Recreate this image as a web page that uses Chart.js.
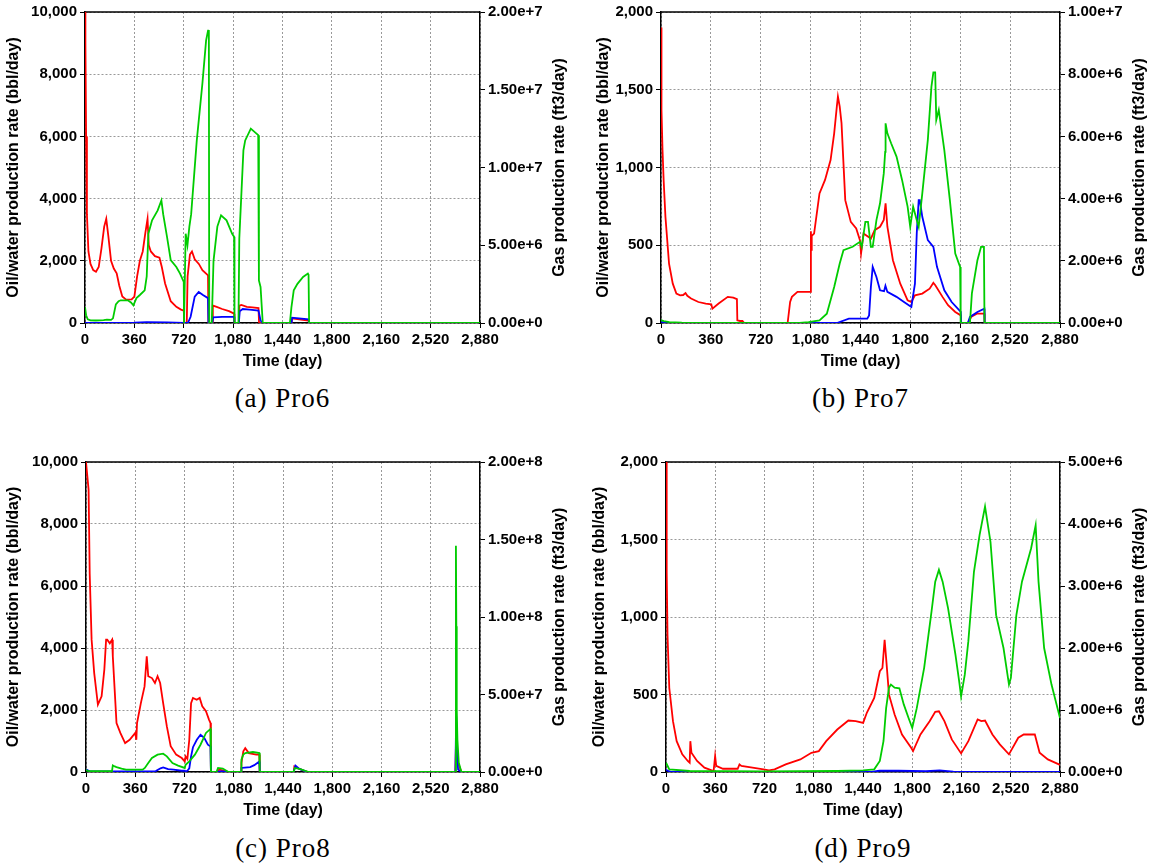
<!DOCTYPE html>
<html>
<head>
<meta charset="utf-8">
<title>Production rates Pro6 - Pro9</title>
<script src="https://cdn.jsdelivr.net/npm/chart.js@4.4.1/dist/chart.umd.min.js"></script>
<style>
  body { margin: 0; background: #fff; }
  #page { position: relative; width: 1160px; height: 867px; overflow: hidden; }
  canvas { position: absolute; }
  .cap {
    position: absolute;
    font-family: "Liberation Serif", "DejaVu Serif", serif;
    font-size: 27px;
    line-height: 30px;
    letter-spacing: 1px;
    text-align: center;
    color: #000;
  }
</style>
</head>
<body>
<div id="page">
  <canvas id="pro6" width="580" height="375" style="left:0;top:0"></canvas>
  <canvas id="pro7" width="580" height="375" style="left:580px;top:0"></canvas>
  <canvas id="pro8" width="580" height="384" style="left:0;top:440px"></canvas>
  <canvas id="pro9" width="580" height="384" style="left:580px;top:440px"></canvas>
  <div class="cap" style="left:85px;top:383px;width:395px">(a) Pro6</div>
  <div class="cap" style="left:661px;top:383px;width:399px">(b) Pro7</div>
  <div class="cap" style="left:86px;top:833px;width:394px">(c) Pro8</div>
  <div class="cap" style="left:666px;top:833px;width:394px">(d) Pro9</div>
</div>
<script>
// tick labels
const dayTicks = [0, 360, 720, 1080, 1440, 1800, 2160, 2520, 2880];
const rateTicks10k = [0, 2000, 4000, 6000, 8000, 10000];
const rateTicks2k = [0, 500, 1000, 1500, 2000];
const gasTicksPro6 = [0, 5e6, 1e7, 1.5e7, 2e7];
const gasTicksPro7 = [0, 2e6, 4e6, 6e6, 8e6, 1e7];
const gasTicksPro8 = [0, 5e7, 1e8, 1.5e8, 2e8];
const gasTicksPro9 = [0, 1e6, 2e6, 3e6, 4e6, 5e6];

// Pro6
const pro6OilDays = [0, 3, 8, 14, 25, 40, 60, 80, 100, 120, 140, 155, 170, 190, 210, 231, 250, 272, 300, 340, 360, 380, 400, 421, 440, 456, 465, 480, 510, 543, 560, 584, 625, 666, 700, 720, 724, 742, 748, 765, 780, 800, 830, 856, 897, 900, 928, 932, 960, 1000, 1050, 1087, 1090, 1122, 1126, 1140, 1180, 1220, 1265, 1269, 1506, 1510, 1560, 1630, 1634, 2880];
const pro6Oil = [10000, 9000, 6000, 3500, 2300, 1900, 1700, 1650, 1800, 2400, 3100, 3350, 2800, 2000, 1750, 1600, 1200, 850, 750, 760, 850, 1500, 2000, 2300, 2900, 3350, 2500, 2300, 2150, 2100, 1800, 1270, 700, 520, 430, 400, 0, 0, 1500, 2200, 2300, 2050, 1900, 1700, 1530, 0, 0, 560, 520, 450, 380, 300, 0, 0, 560, 580, 520, 500, 480, 0, 0, 150, 120, 80, 0, 0];
const pro6WaterDays = [0, 360, 450, 600, 720, 750, 770, 800, 829, 860, 897, 900, 928, 935, 1000, 1087, 1090, 1122, 1128, 1150, 1200, 1265, 1280, 1296, 1506, 1510, 1560, 1630, 1634, 2880];
const pro6Water = [0, 10, 30, 20, 0, 0, 200, 850, 1000, 900, 800, 0, 0, 180, 200, 200, 0, 0, 380, 450, 430, 400, 80, 0, 0, 170, 150, 120, 0, 0];
const pro6GasDays = [0, 8, 20, 40, 80, 136, 160, 190, 204, 225, 245, 260, 312, 335, 353, 375, 400, 435, 450, 462, 489, 530, 557, 570, 598, 625, 666, 693, 720, 722, 726, 734, 747, 761, 774, 815, 856, 883, 897, 903, 906, 924, 937, 965, 992, 1032, 1073, 1087, 1090, 1119, 1125, 1155, 1168, 1209, 1263, 1268, 1280, 1296, 1494, 1505, 1522, 1549, 1590, 1625, 1630, 1634, 2880];
const pro6Gas = [1.02e6, 5e5, 2.4e5, 1.7e5, 1.6e5, 1.8e5, 2.2e5, 2e5, 3e5, 1.2e6, 1.4e6, 1.46e6, 1.46e6, 1.32e6, 1.14e6, 1.6e6, 1.8e6, 2.1e6, 3e6, 5.74e6, 6.6e6, 7.24e6, 7.88e6, 7e6, 5.54e6, 4.04e6, 3.6e6, 3.18e6, 2.64e6, 0, 0, 5.74e6, 5e6, 6.2e6, 7e6, 1.174e7, 1.54e7, 1.818e7, 1.88e7, 1.884e7, 0, 0, 4e6, 6.2e6, 6.92e6, 6.6e6, 5.74e6, 5.54e6, 0, 0, 5.42e6, 1.11e7, 1.174e7, 1.25e7, 1.208e7, 2.74e6, 2.32e6, 0, 0, 1e6, 2.1e6, 2.52e6, 2.96e6, 3.18e6, 3.1e6, 0, 0];

// Pro7
const pro7OilDays = [0, 2, 5, 11, 19, 32, 58, 85, 111, 138, 160, 177, 190, 217, 270, 323, 363, 371, 416, 482, 522, 548, 551, 570, 588, 601, 914, 932, 945, 985, 1078, 1082, 1084, 1088, 1105, 1144, 1184, 1224, 1250, 1270, 1277, 1290, 1303, 1330, 1370, 1409, 1436, 1444, 1462, 1515, 1542, 1581, 1608, 1621, 1634, 1674, 1727, 1780, 1807, 1833, 1886, 1939, 1966, 1980, 2032, 2072, 2124, 2164, 2166, 2215, 2240, 2280, 2323, 2334, 2336, 2880];
const pro7Oil = [1900, 1500, 1370, 1110, 920, 683, 382, 253, 189, 178, 180, 193, 175, 157, 135, 125, 120, 92, 125, 168, 163, 153, 17, 13, 13, 0, 0, 135, 168, 200, 200, 590, 470, 560, 575, 833, 920, 1048, 1220, 1400, 1456, 1392, 1285, 790, 650, 608, 533, 447, 575, 543, 597, 619, 662, 769, 619, 404, 253, 146, 135, 178, 189, 221, 258, 243, 168, 114, 71, 49, 0, 0, 40, 60, 60, 60, 0, 0];
const pro7WaterDays = [0, 10, 30, 1270, 1356, 1489, 1502, 1515, 1528, 1555, 1581, 1610, 1620, 1634, 1700, 1754, 1807, 1833, 1846, 1860, 1868, 1886, 1926, 1966, 1992, 2045, 2098, 2164, 2167, 2215, 2230, 2284, 2334, 2336, 2880];
const pro7Water = [10, 5, 0, 0, 28, 28, 49, 232, 361, 296, 210, 205, 240, 200, 168, 135, 103, 253, 575, 790, 790, 683, 533, 490, 361, 210, 135, 71, 0, 0, 39, 71, 92, 0, 0];
const pro7GasDays = [0, 20, 60, 150, 300, 1000, 1065, 1144, 1197, 1250, 1290, 1317, 1383, 1436, 1449, 1475, 1494, 1515, 1528, 1555, 1581, 1608, 1618, 1621, 1634, 1661, 1700, 1740, 1780, 1799, 1820, 1846, 1860, 1886, 1926, 1952, 1966, 1979, 1987, 2005, 2045, 2085, 2124, 2159, 2163, 2230, 2244, 2284, 2310, 2331, 2335, 2880];
const pro7Gas = [9e4, 6e4, 3e4, 1e4, 0, 0, 3e4, 8.6e4, 3e5, 1.16e6, 1.91e6, 2.34e6, 2.45e6, 2.61e6, 2.45e6, 3.25e6, 3.25e6, 2.45e6, 2.45e6, 3.31e6, 3.85e6, 4.81e6, 5.5e6, 6.42e6, 6.1e6, 5.78e6, 5.35e6, 4.6e6, 3.74e6, 3.09e6, 3.74e6, 3.31e6, 3.09e6, 4.17e6, 5.89e6, 7.6e6, 8.06e6, 8.06e6, 6.53e6, 6.85e6, 5.56e6, 3.95e6, 2.23e6, 1.8e6, 0, 0, 9.5e5, 2.02e6, 2.45e6, 2.45e6, 0, 0];

// Pro8
const pro8OilDays = [0, 19, 27, 41, 60, 87, 114, 134, 147, 155, 174, 191, 196, 223, 251, 286, 319, 360, 368, 373, 401, 428, 444, 455, 482, 504, 523, 542, 564, 591, 619, 659, 700, 722, 728, 741, 755, 768, 782, 809, 831, 850, 877, 899, 910, 913, 954, 973, 1000, 1041, 1133, 1136, 1150, 1164, 1190, 1245, 1267, 1270, 1518, 1523, 1545, 1600, 1627, 2700, 2706, 2712, 2720, 2744, 2880];
const pro8Oil = [10000, 9100, 6400, 4270, 3190, 2170, 2440, 3300, 4270, 4270, 4150, 4270, 3730, 1580, 1260, 935, 1040, 1260, 1040, 1580, 2220, 2760, 3730, 3090, 3030, 2870, 3090, 2870, 2220, 1470, 830, 560, 450, 340, 505, 420, 1040, 2220, 2390, 2330, 2390, 2120, 1960, 1690, 1580, 0, 0, 75, 50, 0, 0, 290, 670, 770, 610, 560, 560, 0, 0, 180, 130, 30, 0, 0, 1260, 700, 300, 0, 0];
const pro8WaterDays = [0, 10, 25, 300, 510, 545, 564, 600, 640, 700, 722, 728, 741, 755, 768, 782, 810, 837, 864, 891, 905, 910, 913, 959, 980, 1000, 1041, 1133, 1136, 1160, 1200, 1230, 1267, 1270, 1518, 1531, 1560, 1600, 1620, 2700, 2706, 2712, 2720, 2744, 2880];
const pro8Water = [75, 60, 20, 20, 30, 120, 150, 90, 75, 40, 40, 20, 40, 120, 505, 800, 1040, 1200, 1100, 880, 840, 830, 0, 0, 20, 20, 0, 0, 130, 140, 160, 220, 340, 0, 0, 205, 100, 30, 0, 0, 1800, 500, 80, 0, 0];
const pro8GasDays = [0, 8, 20, 190, 196, 210, 223, 260, 292, 414, 430, 455, 482, 523, 564, 591, 632, 673, 722, 728, 755, 796, 837, 877, 910, 913, 954, 965, 1000, 1041, 1133, 1136, 1150, 1164, 1220, 1267, 1270, 1518, 1526, 1567, 1627, 2700, 2704, 2707, 2710, 2715, 2725, 2744, 2880];
const pro8Gas = [1.5e6, 8e5, 6e5, 6e5, 4.3e6, 3.6e6, 3.2e6, 2.2e6, 1.5e6, 1.5e6, 2.6e6, 5.8e6, 9e6, 1.12e7, 1.18e7, 1.01e7, 5.8e6, 4.1e6, 2.6e6, 4.7e6, 6.9e6, 1.12e7, 1.76e7, 2.52e7, 2.78e7, 0, 0, 2.6e6, 2.2e6, 0, 0, 8e6, 1.12e7, 1.22e7, 1.29e7, 1.22e7, 0, 0, 2.6e6, 1.9e6, 0, 0, 1.46e8, 9.4e7, 4.02e7, 2.08e7, 6e6, 0, 0];

// Pro9
const pro9OilDays = [0, 5, 11, 24, 51, 78, 119, 159, 173, 178, 186, 227, 281, 348, 359, 367, 416, 524, 537, 551, 632, 713, 753, 794, 875, 982, 1063, 1117, 1171, 1252, 1333, 1387, 1441, 1468, 1522, 1563, 1582, 1598, 1609, 1630, 1671, 1725, 1792, 1806, 1860, 1927, 1968, 1995, 2035, 2089, 2157, 2210, 2278, 2305, 2332, 2386, 2440, 2507, 2575, 2615, 2696, 2731, 2791, 2872, 2880];
const pro9Oil = [2000, 1290, 885, 542, 328, 199, 114, 71, 60, 199, 124, 71, 28, 6, 103, 39, 21, 21, 49, 39, 28, 17, 11, 17, 49, 81, 124, 135, 199, 274, 332, 328, 317, 382, 478, 650, 671, 853, 735, 499, 371, 242, 156, 135, 242, 328, 388, 392, 328, 210, 120, 199, 339, 328, 332, 242, 178, 114, 221, 242, 242, 124, 81, 49, 45];
const pro9WaterDays = [0, 20, 40, 1500, 1560, 1700, 1900, 2000, 2100, 2880];
const pro9Water = [15, 5, 0, 0, 8, 8, 5, 10, 3, 0];
const pro9GasDays = [0, 24, 173, 713, 1252, 1441, 1522, 1563, 1590, 1609, 1630, 1644, 1671, 1706, 1738, 1773, 1800, 1833, 1887, 1941, 1968, 1995, 2022, 2062, 2116, 2143, 2157, 2184, 2210, 2251, 2292, 2332, 2372, 2413, 2467, 2507, 2521, 2561, 2602, 2669, 2702, 2723, 2764, 2818, 2880];
const pro9Gas = [1.5e5, 4.3e4, 1.6e4, 1e4, 1.6e4, 2.7e4, 4.3e4, 1.77e5, 5e5, 1.03e6, 1.36e6, 1.41e6, 1.36e6, 1.35e6, 1.09e6, 8.7e5, 7.1e5, 1.03e6, 1.68e6, 2.59e6, 3.07e6, 3.26e6, 3.07e6, 2.64e6, 1.89e6, 1.46e6, 1.22e6, 1.57e6, 2.11e6, 3.23e6, 3.82e6, 4.28e6, 3.71e6, 2.53e6, 2.0e6, 1.41e6, 1.52e6, 2.53e6, 3.07e6, 3.61e6, 3.98e6, 3.07e6, 2.0e6, 1.41e6, 8.7e5];

const FONT = '"Liberation Sans", Arial, sans-serif';
const tickFont = { family: FONT, size: 15, weight: 'bold' };
const titleFont = { family: FONT, size: 16, weight: 'bold' };

Chart.defaults.color = '#000';

// top border line + right axis title (reads bottom to top like the left one)
const frame = {
    id: 'frame',
    beforeDatasetsDraw(chart) {
        const { ctx, chartArea: a } = chart;
        ctx.save();
        ctx.strokeStyle = '#000';
        ctx.lineWidth = 1.5;
        ctx.beginPath();
        ctx.moveTo(a.left, a.top);
        ctx.lineTo(a.right, a.top);
        ctx.stroke();
        ctx.restore();
    },
    afterDraw(chart, args, opts) {
        const { ctx, chartArea: a } = chart;
        ctx.save();
        ctx.translate(a.right + opts.gap, (a.top + a.bottom) / 2);
        ctx.rotate(-Math.PI / 2);
        ctx.font = 'bold 16px ' + FONT;
        ctx.fillStyle = '#000';
        ctx.textAlign = 'center';
        ctx.textBaseline = 'middle';
        ctx.fillText(opts.text, 0, 0);
        ctx.restore();
    }
};

function toPoints(days, vals) {
    return days.map((d, i) => ({ x: d, y: vals[i] }));
}

function setTicks(list) {
    return scale => { scale.ticks = list.map(v => ({ value: v })); };
}

function drawPanel(id, p) {
    new Chart(document.getElementById(id), {
        type: 'line',
        data: {
            datasets: [
                { label: 'Gas', data: toPoints(p.gasDays, p.gas), borderColor: '#00cc00', yAxisID: 'gas' },
                { label: 'Water', data: toPoints(p.waterDays, p.water), borderColor: '#0000ff', yAxisID: 'y' },
                { label: 'Oil', data: toPoints(p.oilDays, p.oil), borderColor: '#ff0000', yAxisID: 'y' }
            ]
        },
        options: {
            responsive: false,
            animation: false,
            devicePixelRatio: 1,
            datasets: { line: { borderWidth: 1.8, pointRadius: 0, tension: 0, fill: false } },
            layout: { padding: { top: p.top, left: p.left, right: 0, bottom: 0 } },
            plugins: {
                legend: { display: false },
                tooltip: { enabled: false },
                frame: { text: 'Gas production rate (ft3/day)', gap: 80 }
            },
            scales: {
                x: {
                    type: 'linear',
                    min: dayTicks[0],
                    max: dayTicks[dayTicks.length - 1],
                    afterBuildTicks: setTicks(dayTicks),
                    afterFit: s => { s.height = 52; },
                    ticks: { font: tickFont, padding: 3, maxRotation: 0, autoSkip: false },
                    grid: { color: '#999', tickColor: '#000', tickLength: 5 },
                    border: { color: '#000', width: 1.5, dash: [2, 2] },
                    title: { display: true, text: 'Time (day)', font: titleFont, padding: 4 }
                },
                y: {
                    position: 'left',
                    min: p.rateTicks[0],
                    max: p.rateTicks[p.rateTicks.length - 1],
                    afterBuildTicks: setTicks(p.rateTicks),
                    afterFit: s => { s.width = p.yWidth; },
                    ticks: { font: tickFont, padding: 3 },
                    grid: { color: '#999', tickColor: '#000', tickLength: 5 },
                    border: { color: '#000', width: 1.5, dash: [2, 2] },
                    title: { display: true, text: 'Oil/water production rate (bbl/day)', font: titleFont, padding: 4 }
                },
                gas: {
                    position: 'right',
                    min: p.gasTicks[0],
                    max: p.gasTicks[p.gasTicks.length - 1],
                    afterBuildTicks: setTicks(p.gasTicks),
                    afterFit: s => { s.width = 100; },
                    ticks: { font: tickFont, padding: 3, callback: v => Number(v).toExponential(2) },
                    grid: { drawOnChartArea: false, color: '#000', tickLength: 5 },
                    border: { color: '#000', width: 1.5 }
                }
            }
        },
        plugins: [frame]
    });
}

drawPanel('pro6', {
    oilDays: pro6OilDays, oil: pro6Oil, waterDays: pro6WaterDays, water: pro6Water,
    gasDays: pro6GasDays, gas: pro6Gas, rateTicks: rateTicks10k, gasTicks: gasTicksPro6,
    top: 12, left: 0, yWidth: 85
});
drawPanel('pro7', {
    oilDays: pro7OilDays, oil: pro7Oil, waterDays: pro7WaterDays, water: pro7Water,
    gasDays: pro7GasDays, gas: pro7Gas, rateTicks: rateTicks2k, gasTicks: gasTicksPro7,
    top: 12, left: 10, yWidth: 71
});
drawPanel('pro8', {
    oilDays: pro8OilDays, oil: pro8Oil, waterDays: pro8WaterDays, water: pro8Water,
    gasDays: pro8GasDays, gas: pro8Gas, rateTicks: rateTicks10k, gasTicks: gasTicksPro8,
    top: 22, left: 0, yWidth: 86
});
drawPanel('pro9', {
    oilDays: pro9OilDays, oil: pro9Oil, waterDays: pro9WaterDays, water: pro9Water,
    gasDays: pro9GasDays, gas: pro9Gas, rateTicks: rateTicks2k, gasTicks: gasTicksPro9,
    top: 22, left: 6, yWidth: 80
});
</script>
</body>
</html>
